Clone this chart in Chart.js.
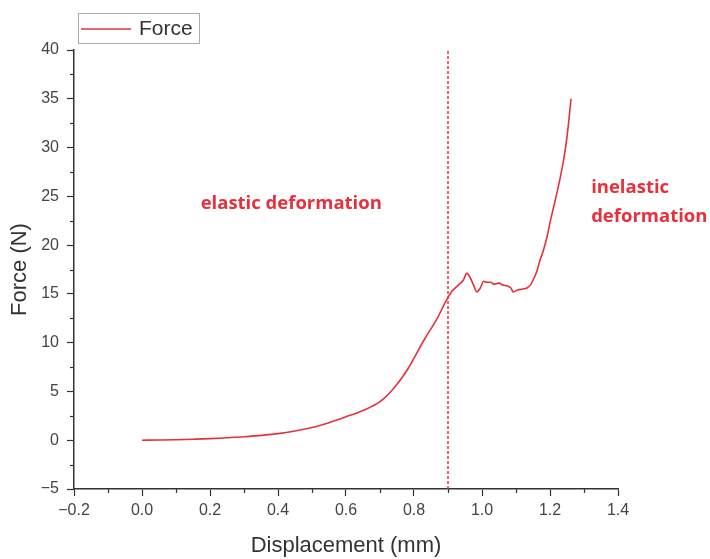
<!DOCTYPE html>
<html>
<head>
<meta charset="utf-8">
<script src="https://cdn.jsdelivr.net/npm/chart.js@4/dist/chart.umd.min.js"></script>
<style>
body { margin:0; background:#fff; }
#wrap { width:710px; height:559px; }
</style>
</head>
<body>
<div id="wrap"><canvas id="canvas" width="710" height="559"></canvas></div>
<script>
// data
var displacement = [0, 0.05, 0.1, 0.15, 0.2, 0.25, 0.3, 0.35, 0.4, 0.45,
	0.5, 0.55, 0.6, 0.65, 0.7, 0.74, 0.78, 0.83, 0.87, 0.89,
	0.91, 0.93, 0.945, 0.955, 0.965, 0.975, 0.985, 0.995, 1.005, 1.014,
	1.025, 1.035, 1.05, 1.062, 1.075, 1.085, 1.092, 1.105, 1.12, 1.132,
	1.142, 1.15, 1.161, 1.171, 1.18, 1.191, 1.2, 1.21, 1.22, 1.23,
	1.24, 1.25, 1.262];
var force = [0, 0.02, 0.05, 0.1, 0.16, 0.25, 0.35, 0.5, 0.68, 0.95,
	1.3, 1.8, 2.4, 3.05, 3.95, 5.3, 7.2, 10.3, 12.6, 14.0,
	15.2, 15.9, 16.4, 17.1, 16.7, 15.9, 15.2, 15.6, 16.3, 16.2,
	16.2, 16.0, 16.1, 15.9, 15.8, 15.6, 15.2, 15.4, 15.5, 15.6,
	15.9, 16.4, 17.3, 18.5, 19.4, 20.8, 22.3, 23.8, 25.3, 26.9,
	28.7, 31.1, 35.0];
var seriesName = "Force";
var xTitle = "Displacement (mm)";
var yTitle = "Force (N)";
var limitX = 0.9;
var notes = [
	{x: 0.439, y: 24.2, lines: ["elastic deformation"], align: "center"},
	{x: 1.321, y: 25.9, lines: ["inelastic", "deformation"], align: "left"}
];

var red = "#e8303c";
var axisColor = "#333333";

function fmtTick(v){
	if(Math.abs(v) < 1e-9){ return "0.0"; }
	if(v < 0){ return "\u2212" + (-v).toFixed(1); }
	return v.toFixed(1);
}

var points = [];
for(var i = 0; i < displacement.length; i++){
	points.push({x: displacement[i], y: force[i]});
}

var extras = {
	id: "extras",
	afterDraw: function(chart){
		var ctx = chart.ctx;
		var xs = chart.scales.x;
		var ys = chart.scales.y;
		var area = chart.chartArea;
		ctx.save();

		// minor ticks
		ctx.strokeStyle = axisColor;
		ctx.lineWidth = 1.2;
		for(var v = -0.1; v < 1.4; v += 0.2){
			var px = Math.round(xs.getPixelForValue(v)) + 0.5;
			ctx.beginPath(); ctx.moveTo(px, area.bottom); ctx.lineTo(px, area.bottom + 4); ctx.stroke();
		}
		for(var w = -2.5; w < 40; w += 5){
			var py = Math.round(ys.getPixelForValue(w)) + 0.5;
			ctx.beginPath(); ctx.moveTo(area.left, py); ctx.lineTo(area.left - 4, py); ctx.stroke();
		}

		// dashed line at 0.9
		var lx = xs.getPixelForValue(limitX);
		ctx.strokeStyle = red;
		ctx.lineWidth = 1.5;
		ctx.setLineDash([3, 2]);
		ctx.beginPath(); ctx.moveTo(lx, ys.getPixelForValue(-5)); ctx.lineTo(lx, ys.getPixelForValue(40)); ctx.stroke();
		ctx.setLineDash([]);

		// annotations
		ctx.fillStyle = red;
		ctx.font = "bold 18.5px 'Open Sans'";
		ctx.textBaseline = "middle";
		for(var n = 0; n < notes.length; n++){
			ctx.textAlign = notes[n].align;
			var nx = xs.getPixelForValue(notes[n].x);
			var ny = ys.getPixelForValue(notes[n].y);
			for(var k = 0; k < notes[n].lines.length; k++){
				ctx.fillText(notes[n].lines[k], nx, ny + k * 29);
			}
		}

		// legend
		ctx.strokeStyle = "#aaaaaa";
		ctx.lineWidth = 1;
		ctx.strokeRect(78.5, 13.5, 121, 30);
		ctx.strokeStyle = red;
		ctx.lineWidth = 1.5;
		ctx.beginPath(); ctx.moveTo(81, 29); ctx.lineTo(131, 29); ctx.stroke();
		ctx.fillStyle = "#333333";
		ctx.font = "21px 'Liberation Sans'";
		ctx.textAlign = "left";
		ctx.fillText(seriesName, 139, 29);
		ctx.restore();
	}
};

var ctx = document.getElementById("canvas").getContext("2d");
var chart = new Chart(ctx, {
	type: "line",
	data: {
		datasets: [{
			label: seriesName,
			data: points,
			borderColor: red,
			borderWidth: 1.6,
			pointRadius: 0,
			cubicInterpolationMode: "monotone",
			fill: false
		}]
	},
	options: {
		responsive: false,
		animation: false,
		layout: {padding: {top: 50, right: 92, left: 0, bottom: 0}},
		plugins: {legend: {display: false}, tooltip: {enabled: false}},
		scales: {
			x: {
				type: "linear",
				min: -0.2, max: 1.4,
				grid: {drawOnChartArea: false, tickLength: 7, tickColor: axisColor, tickWidth: 1.2},
				border: {color: axisColor, width: 1.5},
				ticks: {stepSize: 0.2, color: "#444", font: {family: "'Liberation Sans'", size: 16}, padding: 5,
					callback: function(v){ return fmtTick(v); }},
				title: {display: true, text: xTitle, color: "#333", font: {family: "'Liberation Sans'", size: 22}, padding: {top: 0, bottom: 0}},
				afterFit: function(s){ s.height = 70; }
			},
			y: {
				min: -5, max: 40,
				grid: {drawOnChartArea: false, tickLength: 7, tickColor: axisColor, tickWidth: 1.2},
				border: {color: axisColor, width: 1.5},
				ticks: {stepSize: 5, color: "#444", font: {family: "'Liberation Sans'", size: 16}, padding: 8,
					callback: function(v){ return v < 0 ? "\u2212" + (-v) : "" + v; }},
				title: {display: true, text: yTitle, color: "#333", font: {family: "'Liberation Sans'", size: 22}, padding: {top: 7, bottom: 0}},
				afterFit: function(s){ s.width = 74; }
			}
		}
	},
	plugins: [extras]
});
</script>
</body>
</html>
